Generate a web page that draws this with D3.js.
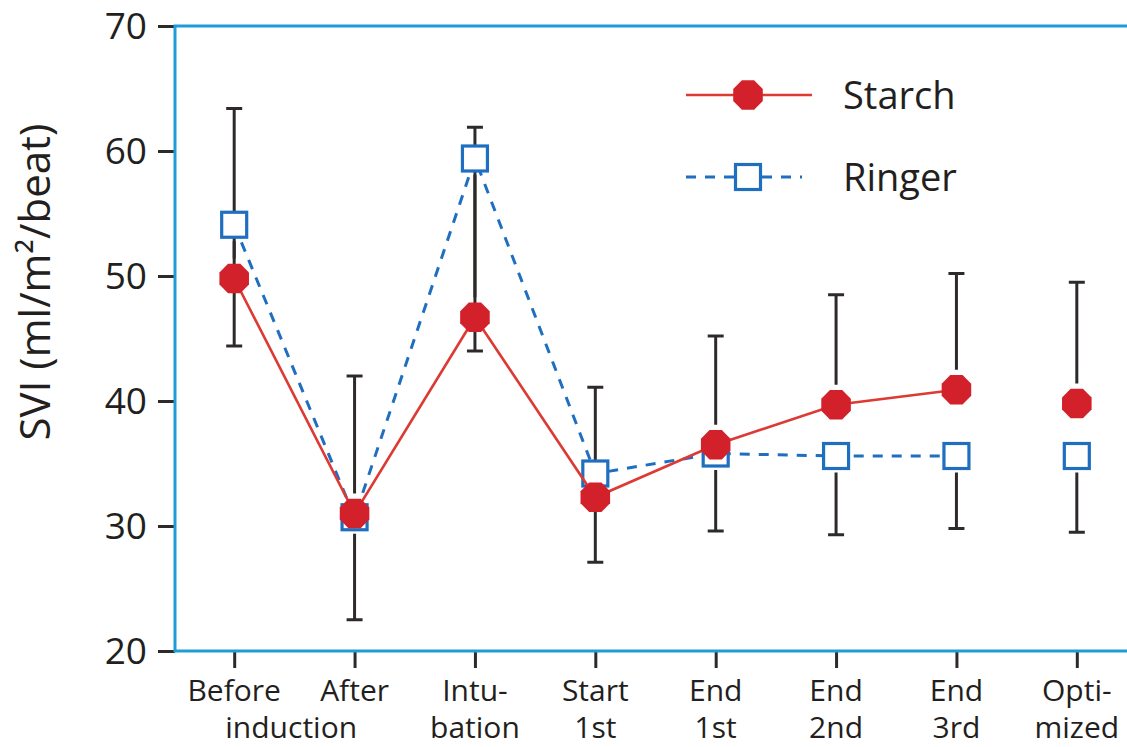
<!DOCTYPE html>
<html>
<head>
<meta charset="utf-8">
<script src="https://cdn.jsdelivr.net/npm/d3@7"></script>
<style>
  html, body { margin: 0; padding: 0; background: #fff; }
  svg { display: block; }
  text { font-family: "Open Sans", "Noto Sans", sans-serif; fill: #231f20; }
  .cat { font-family: Lato, "Open Sans", sans-serif; }
</style>
</head>
<body>
<svg id="chart" width="1127" height="747"></svg>
<script>
// Time points (two-line labels)
const categories = ["Before induction", "After induction", "Intubation", "Start 1st", "End 1st", "End 2nd", "End 3rd", "Optimized"];
const labelLines = [["Before", "induction"], ["After", ""], ["Intu-", "bation"], ["Start", "1st"], ["End", "1st"], ["End", "2nd"], ["End", "3rd"], ["Opti-", "mized"]];

// Stroke volume index means
const starch = [49.8, 31.0, 46.7, 32.3, 36.5, 39.7, 40.9, 39.8];
const ringer = [54.1, 30.7, 59.4, 34.2, 35.8, 35.6, 35.6, 35.6];
// Whisker ends: Starch SD drawn upward, Ringer SD drawn downward
const starchUpper = [63.4, 42.0, 61.9, 41.1, 45.2, 48.5, 50.2, 49.5];
const ringerLower = [44.4, 22.5, 44.0, 27.1, 29.6, 29.3, 29.8, 29.5];

const yTicks = [20, 30, 40, 50, 60, 70];
const seriesNames = ["Starch", "Ringer"];

// Points joined by the lines (the optimized value stands alone)
const connected = 7;

const RED = "#d3212b", RED_LINE = "#dc3a32", BLUE = "#1f6ec0", FRAME = "#1f9bd8", BAR = "#2e2a2a";

const svg = d3.select("#chart");
const plotLeft = 175, plotTop = 26, plotBottom = 651, plotRight = 1127;

const x = d3.scalePoint().domain(categories).range([174, 1137]).padding(0.5);
const y = d3.scaleLinear().domain([20, 70]).range([plotBottom, plotTop]);

// Octagon path centred on (cx, cy)
function octagon(cx, cy, r) {
  const pts = d3.range(8).map(i => {
    const a = Math.PI / 8 + i * Math.PI / 4;
    return [cx + r * Math.cos(a), cy + r * Math.sin(a)];
  });
  return "M" + pts.map(p => p.join(",")).join("L") + "Z";
}
const OCT_R = 16, SQ = 25, GAP = 4;

// Y axis ticks and labels
const yAxis = d3.axisLeft(y).tickValues(yTicks).tickSize(17).tickPadding(11).tickFormat(d3.format("d"));
const gy = svg.append("g").attr("transform", `translate(${plotLeft},0)`).call(yAxis);
gy.select(".domain").remove();
gy.selectAll(".tick line").attr("stroke", BAR).attr("stroke-width", 3);
gy.selectAll(".tick text").attr("font-size", 37).attr("font-family", "Open Sans").attr("fill", "#231f20").attr("dy", "0.35em");

// X axis ticks
const xAxis = d3.axisBottom(x).tickSize(17).tickFormat("");
const gx = svg.append("g").attr("transform", `translate(0,${plotBottom})`).call(xAxis);
gx.select(".domain").remove();
gx.selectAll(".tick line").attr("stroke", BAR).attr("stroke-width", 3);

// Two-line category labels, one text per line
const catG = svg.append("g").attr("class", "cat").attr("font-size", 30).attr("text-anchor", "middle");
catG.selectAll("text.l1").data(categories).join("text")
  .attr("class", "l1")
  .attr("x", c => x(c)).attr("y", 701)
  .text((c, i) => labelLines[i][0]);
catG.selectAll("text.l2").data(categories.filter((c, i) => labelLines[i][1])).join("text")
  .attr("class", "l2")
  // the first label's second word sits a little to the right
  .attr("x", c => x(c) + (c === categories[0] ? 57 : 0)).attr("y", 738)
  .text(c => labelLines[categories.indexOf(c)][1]);

// Blue plot frame (left, top, bottom)
svg.append("path")
  .attr("d", `M${plotRight},${plotTop}H${plotLeft}V${plotBottom}H${plotRight}`)
  .attr("fill", "none").attr("stroke", FRAME).attr("stroke-width", 3);

// Y axis title
svg.append("text")
  .attr("transform", `translate(50,282) rotate(-90)`)
  .attr("text-anchor", "middle")
  .attr("font-size", 42)
  .text("SVI (ml/m²/beat)");

// Error bars
const bars = svg.append("g").attr("stroke", BAR).attr("stroke-width", 3);
categories.forEach((c, i) => {
  const cx = x(c);
  // Starch: upward from the octagon
  bars.append("line").attr("x1", cx).attr("x2", cx)
    .attr("y1", y(starch[i]) - OCT_R - GAP).attr("y2", y(starchUpper[i]));
  bars.append("line").attr("x1", cx - 8).attr("x2", cx + 8)
    .attr("y1", y(starchUpper[i])).attr("y2", y(starchUpper[i]));
  // Ringer: downward from the square
  bars.append("line").attr("x1", cx).attr("x2", cx)
    .attr("y1", y(ringer[i]) + SQ / 2 + GAP).attr("y2", y(ringerLower[i]));
  bars.append("line").attr("x1", cx - 8).attr("x2", cx + 8)
    .attr("y1", y(ringerLower[i])).attr("y2", y(ringerLower[i]));
});

const line = d3.line().x(d => x(d[0])).y(d => y(d[1]));

// Ringer series
svg.append("path")
  .datum(categories.slice(0, connected).map((c, i) => [c, ringer[i]]))
  .attr("d", line).attr("fill", "none")
  .attr("stroke", BLUE).attr("stroke-width", 3).attr("stroke-dasharray", "10,9");
svg.append("g").selectAll("rect").data(categories).join("rect")
  .attr("x", c => x(c) - SQ / 2)
  .attr("y", (c, i) => y(ringer[i]) - SQ / 2)
  .attr("width", SQ).attr("height", SQ)
  .attr("fill", "#fff").attr("stroke", BLUE).attr("stroke-width", 3.2);

// Starch series
svg.append("path")
  .datum(categories.slice(0, connected).map((c, i) => [c, starch[i]]))
  .attr("d", line).attr("fill", "none")
  .attr("stroke", RED_LINE).attr("stroke-width", 2.6);
svg.append("g").selectAll("path").data(categories).join("path")
  .attr("d", (c, i) => octagon(x(c), y(starch[i]), OCT_R))
  .attr("fill", RED);

// Legend
const leg = svg.append("g");
leg.append("line").attr("x1", 686).attr("x2", 812).attr("y1", 95).attr("y2", 95)
  .attr("stroke", RED_LINE).attr("stroke-width", 2.6);
leg.append("path").attr("d", octagon(748, 95, OCT_R)).attr("fill", RED);
leg.append("line").attr("x1", 686).attr("x2", 802).attr("y1", 177).attr("y2", 177)
  .attr("stroke", BLUE).attr("stroke-width", 3).attr("stroke-dasharray", "10,9");
leg.append("rect").attr("x", 748 - SQ / 2).attr("y", 177 - SQ / 2).attr("width", SQ).attr("height", SQ)
  .attr("fill", "#fff").attr("stroke", BLUE).attr("stroke-width", 3.2);
leg.selectAll("text").data(seriesNames).join("text")
  .attr("x", 843).attr("y", (d, i) => i === 0 ? 95 : 177)
  .attr("dy", "0.36em")
  .attr("font-size", 38)
  .text(d => d);
</script>
</body>
</html>
